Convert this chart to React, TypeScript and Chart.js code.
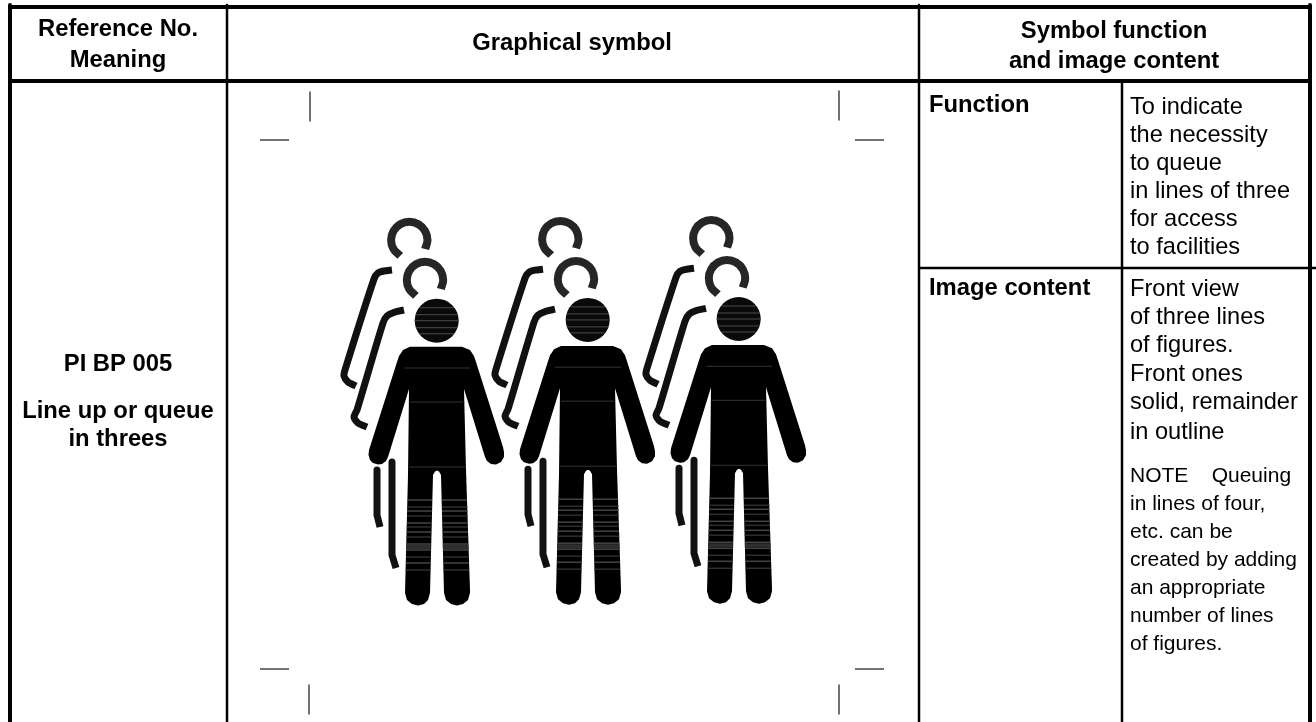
import React, { useEffect, useRef } from "react";
import { Chart, registerables } from "chart.js";

Chart.register(...registerables);

// ---- table rules ----
const ruleStartX = [8, 8, 920, 10, 227, 919, 1122, 1310];
const ruleStartY = [7, 81, 81, 5, 5, 5, 81, 5];
const ruleEndX = [1312, 920, 1312, 10, 227, 919, 1122, 1310];
const ruleEndY = [7, 81, 81, 722, 722, 722, 722, 722];
const rowRuleX = [920, 1316];
const rowRuleY = [268, 268];

// ---- registration marks ----
const markStartX = [310, 839, 309, 839, 260, 855, 260, 855];
const markStartY = [92, 91, 685, 685, 140, 140, 669, 669];
const markEndX = [310, 839, 309, 839, 289, 884, 289, 884];
const markEndY = [121, 120, 714, 714, 140, 140, 669, 669];

// ---- figures ----
const figureShiftX = [0, 151, 302];
const figureShiftY = [0, -0.8, -1.7];
const headX = [436.7];
const headY = [320.7];
const bodyX = [410, 462, 470, 474, 476, 503, 504, 504, 501, 496, 491, 487, 485, 464, 466, 470, 470, 468, 463, 457, 451, 446, 444, 441, 439, 437, 435, 433, 430, 428, 424, 418, 412, 407, 405, 408, 409, 388, 386, 382, 378, 373, 370, 368.5, 369, 397, 399, 403];
const bodyY = [346.7, 346.7, 350, 356, 362, 447, 452, 457, 462, 464.5, 464, 461, 457, 389, 470, 590, 593, 600, 604, 605.5, 604, 600, 593, 475, 471.5, 470.5, 471.5, 475, 593, 600, 604, 605.5, 604, 600, 593, 475, 389, 457, 461, 464, 464.5, 463, 460, 455, 450, 362, 356, 350];
const ringX = [400.2, 393.5, 391.1, 393.5, 400.2, 409.3, 418.4, 425.1, 427.5, 425.1];
const ringY = [255.8, 249.1, 240, 230.9, 224.2, 221.8, 224.2, 230.9, 240, 249.1];
const ringShiftX = [0, 15.7];
const ringShiftY = [0, 40];
const backArmX = [392, 384, 378, 374, 345, 344, 348, 356];
const backArmY = [270, 271, 273, 279, 370, 376, 382, 386];
const midArmX = [404, 395, 387, 383, 357, 354, 358, 367];
const midArmY = [310, 312, 316, 323, 410, 417, 423, 427];
const backLegX = [377, 377, 380];
const backLegY = [470, 515, 527];
const midLegX = [392, 392, 396];
const midLegY = [462, 555, 568];
const legBandY = [500, 507, 511, 516, 523, 527, 532, 537, 544, 547, 550, 557, 563, 570];
const legBandLeftStart = [407.5, 407.3, 407.2, 407, 406.9, 406.8, 406.6, 406.5, 406.3, 406.3, 406.2, 406, 405.9, 405.7];
const legBandRightStart = [441.7, 441.9, 442, 442.1, 442.3, 442.4, 442.5, 442.7, 442.8, 442.9, 443, 443.2, 443.3, 443.5];
const legBandLeftLength = 24.5;
const legBandRightLength = 25.5;
const torsoStripeY = [368, 402, 467];
const torsoStripeStart = [404, 410, 409];
const torsoStripeEnd = [470, 463, 465];
const headStripeOffset = [-13, -6, 0, 7, 13];
const headStripeHalf = [17, 21, 22, 21, 17];

// ---- text ----
const headerLines = ["Reference No.", "Meaning", "Graphical symbol", "Symbol function", "and image content"];
const sideLines = ["PI BP 005", "Line up or queue", "in threes", "Function", "Image content"];
const functionLines = ["To indicate", "the necessity", "to queue", "in lines of three", "for access", "to facilities"];
const imageLines = ["Front view", "of three lines", "of figures.", "Front ones", "solid, remainder", "in outline"];
const noteLines = ["NOTE    Queuing", "in lines of four,", "etc. can be", "created by adding", "an appropriate", "number of lines", "of figures."];

const FONT = '"Liberation Sans", Arial, sans-serif';

function textPlacements() {
  const out: any[] = [];
  const add = (t: string, x: number, y: number, font: string, align: string) => out.push({ t, x, y, font, align });
  const bold = `bold 23.8px ${FONT}`;
  const body = `23.6px ${FONT}`;
  const small = `21px ${FONT}`;
  add(headerLines[0], 118, 36, bold, "center");
  add(headerLines[1], 118, 67, bold, "center");
  add(headerLines[2], 572, 50, bold, "center");
  add(headerLines[3], 1114, 38, bold, "center");
  add(headerLines[4], 1114, 68, bold, "center");
  add(sideLines[0], 118, 371, bold, "center");
  add(sideLines[1], 118, 418, bold, "center");
  add(sideLines[2], 118, 446, bold, "center");
  add(sideLines[3], 929, 112, bold, "left");
  add(sideLines[4], 929, 295, bold, "left");
  functionLines.forEach((t, i) => add(t, 1130, [114, 142, 170, 198, 226, 254][i], body, "left"));
  imageLines.forEach((t, i) => add(t, 1130, [296, 324, 352, 381, 409, 439][i], body, "left"));
  noteLines.forEach((t, i) => add(t, 1130, [482, 510, 538, 566, 594, 622, 650][i], small, "left"));
  return out;
}

const tablePlugin = {
  id: "tableText",
  afterDraw(chart: any) {
    const { ctx, scales } = chart;
    ctx.save();
    ctx.fillStyle = "#000";
    ctx.textBaseline = "alphabetic";
    for (const p of textPlacements()) {
      ctx.font = p.font;
      ctx.textAlign = p.align;
      ctx.fillText(p.t, scales.x.getPixelForValue(p.x), scales.y.getPixelForValue(p.y));
    }
    ctx.restore();
  },
};

function toPts(xs: number[], ys: number[], dx = 0, dy = 0) {
  return xs.map((x, i) => ({ x: x + dx, y: ys[i] + dy }));
}

function stroke(data: any[], color: string, width: number, extra: any = {}) {
  return { type: "line", data, borderColor: color, borderWidth: width, pointRadius: 0, fill: false, tension: 0, borderCapStyle: "butt", borderJoinStyle: "round", ...extra };
}

function segment(x1: number, x2: number, y: number, color: string, width: number) {
  return stroke([{ x: x1, y }, { x: x2, y }], color, width);
}

function buildDatasets() {
  const ds: any[] = [];
  ruleStartX.forEach((x, i) => {
    const w = i === 4 || i === 5 || i === 6 ? 2.5 : 4;
    ds.push(stroke([{ x, y: ruleStartY[i] }, { x: ruleEndX[i], y: ruleEndY[i] }], "#000", w));
  });
  ds.push(stroke(toPts(rowRuleX, rowRuleY), "#000", 2.5));
  markStartX.forEach((x, i) => {
    ds.push(stroke([{ x, y: markStartY[i] }, { x: markEndX[i], y: markEndY[i] }], "#444", 1.5));
  });
  figureShiftX.forEach((dx, f) => {
    const dy = figureShiftY[f];
    ringShiftX.forEach((rx, r) => {
      ds.push(stroke(toPts(ringX, ringY, dx + rx, dy + ringShiftY[r]), "#262626", 8, { tension: 0.4 }));
    });
    ds.push(stroke(toPts(backArmX, backArmY, dx, dy), "#111", 7, { tension: 0.25 }));
    ds.push(stroke(toPts(midArmX, midArmY, dx, dy), "#111", 7, { tension: 0.25 }));
    ds.push(stroke(toPts(backLegX, backLegY, dx, dy), "#111", 7));
    ds.push(stroke(toPts(midLegX, midLegY, dx, dy), "#111", 7));
    ds.push({ type: "line", data: toPts(bodyX, bodyY, dx, dy), borderWidth: 0, borderColor: "#000", backgroundColor: "#000", pointRadius: 0, fill: "shape", tension: 0 });
    ds.push({ type: "scatter", data: toPts(headX, headY, dx, dy), pointRadius: 22, pointBackgroundColor: "#0a0a0a", pointBorderWidth: 0, showLine: false });
    headStripeOffset.forEach((off, h) => {
      const cx = headX[0] + dx;
      ds.push(segment(cx - headStripeHalf[h], cx + headStripeHalf[h], headY[0] + dy + off, "#4a4a4a", 1));
    });
    torsoStripeY.forEach((y, t) => {
      ds.push(segment(torsoStripeStart[t] + dx, torsoStripeEnd[t] + dx, y + dy, "#333", 1));
    });
    legBandY.forEach((y, b) => {
      const w = b === 9 ? 4 : 1.5;
      const c = b % 2 === 0 ? "#444" : "#2e2e2e";
      ds.push(segment(legBandLeftStart[b] + dx, legBandLeftStart[b] + legBandLeftLength + dx, y + dy, c, w));
      ds.push(segment(legBandRightStart[b] + dx, legBandRightStart[b] + legBandRightLength + dx, y + dy, c, w));
    });
  });
  // Chart.js paints the first dataset last, so reverse to get painter's order.
  return ds.reverse();
}

export default function App() {
  const ref = useRef<HTMLCanvasElement>(null);
  useEffect(() => {
    const chart = new Chart(ref.current as HTMLCanvasElement, {
      type: "line",
      data: { datasets: buildDatasets() },
      options: {
        animation: false,
        responsive: false,
        parsing: false,
        normalized: false,
        layout: { padding: 0, autoPadding: false },
        plugins: { legend: { display: false }, title: { display: false }, tooltip: { enabled: false } },
        scales: {
          x: { type: "linear", display: false, min: 0, max: 1316 },
          y: { type: "linear", display: false, min: 0, max: 722, reverse: true },
        },
      },
      plugins: [tablePlugin],
    } as any);
    return () => chart.destroy();
  }, []);
  return (
    <div style={{ position: "fixed", left: 0, top: 0, width: 1316, height: 722, background: "#fff" }}>
      <canvas ref={ref} width={1316} height={722} style={{ display: "block" }} />
    </div>
  );
}
